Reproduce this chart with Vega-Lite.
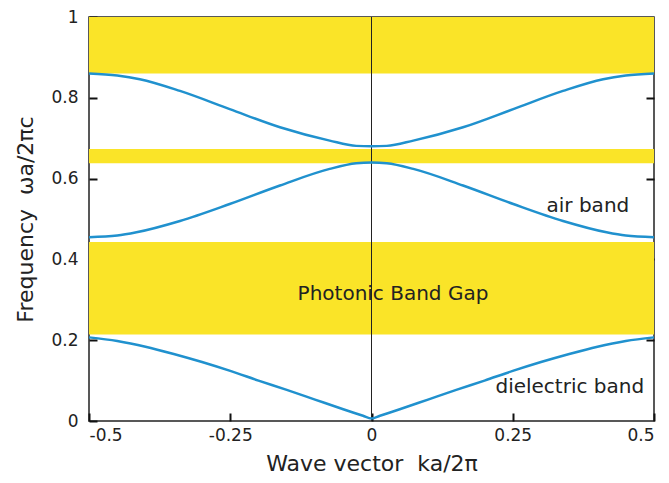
{
  "$schema": "https://vega.github.io/schema/vega-lite/v6.json",
  "width": 565,
  "height": 404,
  "autosize": {"type": "none"},
  "padding": {"left": 89, "top": 17, "right": 15, "bottom": 62},
  "config": {
    "view": {"stroke": "#222", "strokeWidth": 1.5},
    "font": "DejaVu Sans",
    "axis": {"domain": false, "grid": false, "ticks": true, "zindex": 1, "tickColor": "#111", "tickWidth": 2, "labelColor": "#222", "titleColor": "#222", "labelFontSize": 17, "titleFontSize": 22, "titleFontWeight": "normal", "labelFont": "DejaVu Sans", "titleFont": "DejaVu Sans"}
  },
  "datasets": {
    "gaps": [
      {"lo": 0.214, "hi": 0.443},
      {"lo": 0.638, "hi": 0.673},
      {"lo": 0.860, "hi": 1.0}
    ],
    "bands": [
      {"band": "dielectric", "k": -0.5, "w": 0.207},
      {"band": "dielectric", "k": -0.45, "w": 0.198},
      {"band": "dielectric", "k": -0.4, "w": 0.184},
      {"band": "dielectric", "k": -0.35, "w": 0.166},
      {"band": "dielectric", "k": -0.3, "w": 0.146},
      {"band": "dielectric", "k": -0.25, "w": 0.124},
      {"band": "dielectric", "k": -0.2, "w": 0.1},
      {"band": "dielectric", "k": -0.15, "w": 0.077},
      {"band": "dielectric", "k": -0.1, "w": 0.053},
      {"band": "dielectric", "k": -0.05, "w": 0.029},
      {"band": "dielectric", "k": -0.015, "w": 0.013},
      {"band": "dielectric", "k": 0, "w": 0.006},
      {"band": "dielectric", "k": 0.015, "w": 0.013},
      {"band": "dielectric", "k": 0.05, "w": 0.029},
      {"band": "dielectric", "k": 0.1, "w": 0.053},
      {"band": "dielectric", "k": 0.15, "w": 0.077},
      {"band": "dielectric", "k": 0.2, "w": 0.1},
      {"band": "dielectric", "k": 0.25, "w": 0.124},
      {"band": "dielectric", "k": 0.3, "w": 0.146},
      {"band": "dielectric", "k": 0.35, "w": 0.166},
      {"band": "dielectric", "k": 0.4, "w": 0.184},
      {"band": "dielectric", "k": 0.45, "w": 0.198},
      {"band": "dielectric", "k": 0.5, "w": 0.207},
      {"band": "air", "k": -0.5, "w": 0.455},
      {"band": "air", "k": -0.45, "w": 0.459},
      {"band": "air", "k": -0.416, "w": 0.467},
      {"band": "air", "k": -0.339, "w": 0.495},
      {"band": "air", "k": -0.251, "w": 0.537},
      {"band": "air", "k": -0.162, "w": 0.583},
      {"band": "air", "k": -0.074, "w": 0.624},
      {"band": "air", "k": -0.027, "w": 0.638},
      {"band": "air", "k": 0, "w": 0.640},
      {"band": "air", "k": 0.027, "w": 0.638},
      {"band": "air", "k": 0.074, "w": 0.624},
      {"band": "air", "k": 0.162, "w": 0.583},
      {"band": "air", "k": 0.251, "w": 0.537},
      {"band": "air", "k": 0.339, "w": 0.495},
      {"band": "air", "k": 0.416, "w": 0.467},
      {"band": "air", "k": 0.45, "w": 0.459},
      {"band": "air", "k": 0.5, "w": 0.455},
      {"band": "third", "k": -0.5, "w": 0.860},
      {"band": "third", "k": -0.45, "w": 0.855},
      {"band": "third", "k": -0.41, "w": 0.846},
      {"band": "third", "k": -0.339, "w": 0.817},
      {"band": "third", "k": -0.251, "w": 0.772},
      {"band": "third", "k": -0.162, "w": 0.727},
      {"band": "third", "k": -0.074, "w": 0.694},
      {"band": "third", "k": -0.027, "w": 0.681},
      {"band": "third", "k": 0, "w": 0.680},
      {"band": "third", "k": 0.027, "w": 0.681},
      {"band": "third", "k": 0.074, "w": 0.694},
      {"band": "third", "k": 0.162, "w": 0.727},
      {"band": "third", "k": 0.251, "w": 0.772},
      {"band": "third", "k": 0.339, "w": 0.817},
      {"band": "third", "k": 0.41, "w": 0.846},
      {"band": "third", "k": 0.45, "w": 0.855},
      {"band": "third", "k": 0.5, "w": 0.860}
    ],
    "notes": [
      {"text": "Photonic Band Gap", "k": 0.038, "w": 0.314},
      {"text": "air band", "k": 0.383, "w": 0.533},
      {"text": "dielectric band", "k": 0.351, "w": 0.084}
    ],
    "center": [{"k": 0, "w0": 0, "w1": 1}]
  },
  "layer": [
    {
      "data": {"name": "gaps"},
      "mark": {"type": "rect", "color": "#FAE428"},
      "encoding": {
        "y": {"field": "lo", "type": "quantitative", "scale": {"domain": [0, 1], "nice": false}, "axis": null},
        "y2": {"field": "hi"}
      }
    },
    {
      "data": {"name": "center"},
      "mark": {"type": "rule", "color": "#222", "strokeWidth": 1},
      "encoding": {
        "x": {"field": "k", "type": "quantitative", "scale": {"domain": [-0.5, 0.5], "nice": false},
          "axis": {"orient": "top", "values": [-0.25, 0.25], "labels": false, "title": null, "tickSize": 8, "offset": -8}},
        "y": {"field": "w0", "type": "quantitative",
          "axis": {"orient": "right", "values": [0.2, 0.4, 0.6, 0.8], "labels": false, "title": null, "tickSize": 8, "offset": -8}},
        "y2": {"field": "w1"}
      }
    },
    {
      "data": {"name": "bands"},
      "mark": {"type": "line", "color": "#2091CE", "strokeWidth": 2.5, "interpolate": "monotone"},
      "encoding": {
        "x": {"field": "k", "type": "quantitative",
          "axis": {"orient": "bottom", "values": [-0.5, -0.25, 0, 0.25, 0.5], "tickSize": 8, "offset": -8, "labelPadding": 6, "labelExpr": "'' + datum.value", "title": "Wave vector\u00a0\u00a0ka/2π", "titlePadding": 10}},
        "y": {"field": "w", "type": "quantitative",
          "axis": {"orient": "left", "values": [0, 0.2, 0.4, 0.6, 0.8, 1], "tickSize": 8, "offset": -8, "labelPadding": 11, "labelExpr": "'' + datum.value", "title": "Frequency\u00a0\u00a0ωa/2πc", "titlePadding": 13}},
        "detail": {"field": "band"}
      }
    },
    {
      "data": {"name": "notes"},
      "mark": {"type": "text", "fontSize": 20, "color": "#222", "font": "DejaVu Sans"},
      "encoding": {
        "x": {"field": "k", "type": "quantitative", "axis": null},
        "y": {"field": "w", "type": "quantitative", "axis": null},
        "text": {"field": "text"}
      }
    }
  ]
}
